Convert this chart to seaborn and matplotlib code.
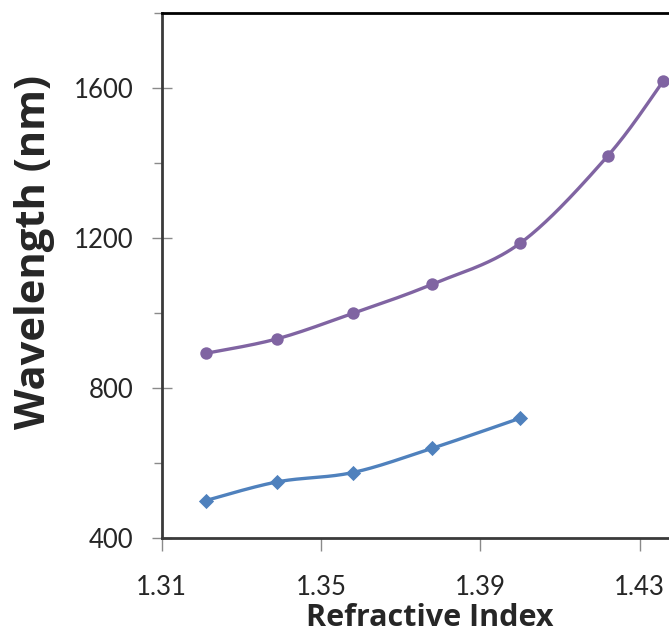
import numpy as np
import pandas as pd
import matplotlib
matplotlib.use("Agg")
import matplotlib.pyplot as plt
import seaborn as sns

# Data
ri_purple = [1.321, 1.339, 1.358, 1.378, 1.400, 1.422, 1.436]
wl_purple = [892, 931, 999, 1077, 1186, 1419, 1620]
ri_blue = [1.321, 1.339, 1.358, 1.378, 1.400]
wl_blue = [499, 549, 574, 639, 719]
x_ticks = [1.31, 1.35, 1.39, 1.43]
y_ticks = [400, 800, 1200, 1600]
y_minor = [600, 1000, 1400, 1800]

PURPLE = "#8064A2"
BLUE = "#4F81BD"


def smooth(xs, ys, n=40):
    """Excel-like smoothed line (Catmull-Rom Bezier) through the data points."""
    p = np.column_stack([xs, ys]).astype(float)
    ext = np.vstack([p[0], p, p[-1]])
    out = []
    for i in range(len(p) - 1):
        p0, p1, p2, p3 = ext[i], ext[i + 1], ext[i + 2], ext[i + 3]
        c1 = p1 + (p2 - p0) / 6.0
        c2 = p2 - (p3 - p1) / 6.0
        t = np.linspace(0, 1, n)[:, None]
        seg = ((1 - t) ** 3) * p1 + 3 * ((1 - t) ** 2) * t * c1 + 3 * (1 - t) * t ** 2 * c2 + t ** 3 * p2
        out.append(seg if i == 0 else seg[1:])
    s = np.vstack(out)
    return s[:, 0], s[:, 1]


sns.set_theme(style="white")
plt.rcParams["font.family"] = ["Lato", "DejaVu Sans"]

W, H = 669, 635
fig = plt.figure(figsize=(W / 100, H / 100), dpi=100)
AX_L, AX_B, AX_T = 161.7, 537.7, 13.3
ax = fig.add_axes([AX_L / W, 1 - AX_B / H, 1 - AX_L / W, (AX_B - AX_T) / H])

for xs, ys, col, mk, ms in [(ri_purple, wl_purple, PURPLE, "o", 80),
                            (ri_blue, wl_blue, BLUE, "D", 60)]:
    sx, sy = smooth(xs, ys)
    sm = pd.DataFrame({"x": sx, "y": sy})
    sns.lineplot(data=sm, x="x", y="y", sort=False, estimator=None, color=col,
                 linewidth=2.4, ax=ax)
    pts = pd.DataFrame({"x": xs, "y": ys})
    sns.scatterplot(data=pts, x="x", y="y", color=col, marker=mk, s=ms,
                    edgecolor=col, linewidth=0, ax=ax, zorder=3, clip_on=False)

ax.set_xlabel("")
ax.set_ylabel("")
ax.set_xlim(1.31, 1.4374)
ax.set_ylim(400, 1800)
ax.set_xticks(x_ticks)
ax.set_xticklabels([f"{v:.2f}" for v in x_ticks])
ax.set_yticks(y_ticks)
ax.set_yticklabels([str(v) for v in y_ticks])
ax.set_yticks(y_minor, minor=True)

ax.tick_params(axis="y", which="major", direction="inout", length=15, width=1,
               color="#8a8a8a", labelsize=18.5, pad=13, left=True)
ax.tick_params(axis="y", which="minor", direction="out", length=6, width=1,
               color="#8a8a8a", left=True)
ax.tick_params(axis="x", which="major", direction="out", length=9, width=1,
               color="#8a8a8a", labelsize=18.5, pad=18, bottom=True)

for side in ["left", "bottom", "top"]:
    ax.spines[side].set_visible(True)
    ax.spines[side].set_linewidth(2.0)
ax.spines["left"].set_color("#3a3a3a")
ax.spines["bottom"].set_color("#3a3a3a")
ax.spines["top"].set_color("#000000")
ax.spines["right"].set_visible(False)

# Axis titles (bold, Calibri-like proportions -> Open Sans Bold)
lab_font = ["Open Sans", "DejaVu Sans"]
xt = fig.text(430 / W, 1 - 626 / H, "Refractive Index", family=lab_font,
              fontweight="bold", fontsize=20, ha="center", va="baseline")
yt = fig.text(35 / W, 1 - 252 / H, "Wavelength (nm)", family=lab_font,
              fontweight="bold", fontsize=28, ha="center", va="center",
              rotation=90)

# fit title sizes to the reference lengths
fig.canvas.draw()
r = fig.canvas.get_renderer()
for t, target, dim in [(xt, 248.0, "w"), (yt, 354.0, "h")]:
    bb = t.get_window_extent(r)
    cur = bb.width if dim == "w" else bb.height
    t.set_fontsize(t.get_fontsize() * target / cur)

fig.savefig("out.png", dpi=100)
